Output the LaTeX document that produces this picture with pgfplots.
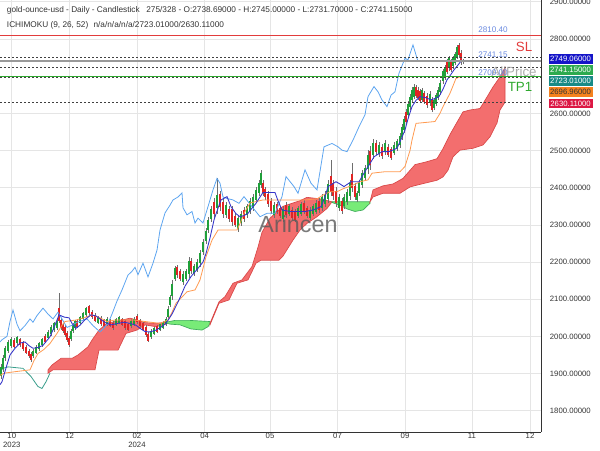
\documentclass[border=0pt]{standalone}
\usepackage{pgfplots}
\pgfplotsset{compat=1.18}
\usepackage{pgfplotstable}
\usepackage{fontspec}
\setmainfont{Liberation Sans}
\definecolor{cgrn}{HTML}{1FA03A}
\definecolor{cred}{HTML}{E02424}
\definecolor{wick}{HTML}{6E6E6E}
\definecolor{lblue}{HTML}{5DA5F0}
\definecolor{dblue}{HTML}{3535C8}
\definecolor{korange}{HTML}{FF9A50}
\definecolor{tealx}{HTML}{3A9E8C}
\definecolor{cloudred}{HTML}{F36E6E}
\definecolor{cloudredline}{HTML}{D94848}
\definecolor{cloudgrn}{HTML}{78EB78}
\definecolor{cloudgrnline}{HTML}{3DAA5A}
\definecolor{txtgray}{HTML}{333333}
\definecolor{lbltxt}{HTML}{6A8AE0}
\definecolor{slred}{HTML}{E23C3C}
\definecolor{tpgreen}{HTML}{2EA82E}
\definecolor{boxblue}{HTML}{1414C8}
\definecolor{boxgreen}{HTML}{2DAA4F}
\definecolor{boxteal}{HTML}{178A86}
\definecolor{boxorange}{HTML}{F5821F}
\definecolor{boxred}{HTML}{DC1844}
\newcommand{\tf}{\fontsize{5.8}{6.6}\selectfont}
\newcommand{\ttlf}{\fontsize{6.2}{7}\selectfont}

\pgfplotstableread{
x o h l c
1 1893 1925 1885 1917
3 1914 1950 1905 1941
5 1943 1975 1935 1967
8 1962 1990 1955 1983
11 1976 1998 1970 1992
14 1990 1995 1968 1973
17 1983 2002 1978 1997
20 1991 1996 1972 1977
23 1982 1987 1962 1967
26 1971 1976 1952 1957
29 1961 1966 1942 1947
31 1953 1958 1932 1937
33 1947 1966 1942 1961
36 1957 1976 1952 1971
39 1967 1986 1962 1981
42 1977 1996 1972 1991
45 2001 2006 1982 1987
48 1997 2016 1992 2011
51 2008 2030 2002 2024
54 2018 2040 2012 2034
57 2024 2046 2018 2040
59 2075 2118 2035 2042
61 2044 2050 2018 2024
63 2030 2036 2008 2014
65 2024 2030 1998 2004
67 2009 2015 1984 1990
69 1996 2002 1972 1978
71 1994 2020 1988 2014
73 2014 2036 2008 2030
75 2023 2045 2018 2040
77 2041 2046 2022 2027
80 2038 2056 2033 2051
83 2048 2066 2043 2061
86 2058 2080 2053 2075
89 2080 2085 2058 2063
92 2066 2071 2048 2053
95 2057 2062 2038 2043
98 2038 2056 2034 2052
101 2050 2055 2029 2034
104 2042 2046 2024 2028
107 2033 2052 2028 2047
110 2042 2046 2024 2028
113 2036 2041 2018 2023
116 2032 2050 2028 2046
119 2038 2056 2034 2052
122 2046 2050 2028 2032
125 2040 2045 2018 2023
128 2032 2036 2014 2018
131 2028 2046 2023 2041
134 2033 2051 2029 2047
137 2055 2060 2034 2039
140 2042 2046 2024 2028
143 2035 2040 2014 2019
146 2024 2030 1998 2004
148 2006 2011 1984 1989
151 1999 2020 1994 2015
154 2008 2026 2004 2022
157 2026 2030 2008 2012
160 2018 2036 2014 2032
163 2023 2041 2019 2037
166 2033 2052 2028 2047
168 2052 2082 2044 2074
170 2085 2112 2078 2105
172 2109 2152 2098 2141
175 2156 2190 2148 2182
177 2185 2192 2158 2165
180 2175 2182 2148 2155
183 2146 2176 2138 2168
186 2155 2182 2148 2175
189 2169 2214 2158 2203
191 2203 2212 2168 2177
194 2170 2196 2163 2189
197 2180 2207 2173 2200
200 2197 2232 2188 2223
203 2227 2262 2218 2253
206 2257 2292 2248 2283
208 2287 2322 2278 2313
211 2317 2352 2308 2343
214 2361 2372 2318 2329
217 2345 2425 2328 2380
220 2381 2392 2338 2349
223 2361 2372 2318 2329
226 2327 2362 2318 2353
229 2343 2352 2308 2317
232 2341 2352 2298 2309
235 2324 2332 2293 2301
238 2291 2327 2282 2318
241 2306 2337 2298 2329
244 2339 2347 2308 2316
247 2326 2357 2318 2349
250 2337 2372 2328 2363
253 2347 2382 2338 2373
256 2367 2402 2358 2393
259 2387 2422 2378 2413
261 2408 2448 2398 2438
263 2413 2422 2378 2387
265 2395 2402 2368 2375
268 2383 2392 2348 2357
271 2363 2372 2328 2337
274 2327 2362 2318 2353
277 2355 2362 2328 2335
280 2345 2352 2318 2325
283 2317 2352 2308 2343
286 2353 2362 2318 2327
289 2330 2357 2323 2350
292 2340 2347 2313 2320
295 2335 2342 2308 2315
298 2325 2352 2318 2345
301 2331 2362 2323 2354
304 2359 2367 2328 2336
307 2345 2352 2318 2325
310 2320 2347 2313 2340
313 2330 2357 2323 2350
316 2336 2367 2328 2359
319 2364 2372 2333 2341
322 2347 2382 2338 2373
325 2357 2392 2348 2383
328 2371 2422 2358 2409
331 2430 2475 2378 2390
333 2411 2422 2368 2379
336 2391 2402 2348 2359
339 2347 2382 2338 2373
342 2363 2372 2328 2337
344 2351 2382 2343 2374
347 2362 2397 2353 2388
350 2379 2422 2368 2411
352 2435 2466 2388 2400
355 2403 2412 2368 2377
357 2368 2392 2362 2386
359 2387 2422 2378 2413
362 2408 2448 2398 2438
365 2427 2462 2418 2453
368 2451 2501 2438 2488
370 2499 2512 2448 2461
373 2488 2530 2478 2520
376 2519 2527 2488 2496
379 2491 2522 2483 2514
382 2509 2517 2478 2486
385 2496 2527 2488 2519
388 2510 2517 2483 2490
391 2503 2510 2475 2482
394 2495 2522 2488 2515
397 2505 2532 2498 2525
400 2516 2547 2508 2539
402 2537 2572 2528 2563
404 2557 2592 2548 2583
406 2603 2612 2568 2577
408 2597 2632 2588 2623
410 2617 2652 2608 2643
412 2637 2672 2628 2663
414 2646 2678 2638 2670
416 2669 2676 2640 2647
418 2663 2670 2635 2642
420 2658 2665 2628 2635
422 2637 2668 2630 2661
424 2653 2660 2625 2632
427 2647 2655 2615 2623
430 2628 2660 2620 2652
432 2637 2645 2603 2611
434 2616 2640 2610 2634
436 2627 2655 2620 2648
438 2642 2670 2635 2663
440 2658 2690 2650 2682
443 2688 2720 2680 2712
445 2698 2730 2690 2722
447 2737 2745 2705 2713
449 2723 2755 2715 2747
451 2738 2745 2710 2717
453 2727 2755 2720 2748
455 2737 2765 2730 2758
457 2753 2785 2745 2777
459 2782 2790 2750 2758
461 2762 2770 2730 2738
463 2738.69 2745 2731.7 2741.15
}\candles

\begin{document}
\begin{tikzpicture}
\path[use as bounding box] (0,-13.5pt) rectangle (450pt,324pt);
\begin{axis}[
  at={(0,0)}, anchor=south west,
  scale only axis, width=405.75pt, height=324pt,
  xmin=0, xmax=541, ymin=1742.8, ymax=2904.9,
  axis x line*=bottom, axis y line*=right,
  axis line style={draw=black!80, line width=0.75pt},
  clip mode=individual,
  xtick={11.8,69.7,137,204.6,270,337.5,405,472,530},
  xticklabels={{10\\2023},{12},{02\\2024},{04},{05},{07},{09},{11},{12}},
  xticklabel style={align=center, font=\tf, text=txtgray, inner sep=0.5pt},
  ytick={1800,1900,2000,2100,2200,2300,2400,2500,2600,2700,2800,2900},
  yticklabels={1800.00000,1900.00000,2000.00000,2100.00000,2200.00000,2300.00000,2400.00000,2500.00000,2600.00000,{},2800.00000,2900.00000},
  yticklabel style={font=\tf, text=txtgray, inner sep=0pt, xshift=6.5pt},
  major tick length=0pt,
  tick style={draw=none},
  xmajorgrids, ymajorgrids,
  grid style={draw=black!10, line width=0.5pt},
]
% teal span line at left
\addplot[tealx, line width=0.6pt] coordinates {(0,1905) (3,1914) (8,1918) (23,1914) (31,1892) (38,1865) (42,1860) (46,1878) (50,1901)};
% cloud 1 red
\addplot[fill=cloudred, draw=cloudredline, line width=0.5pt] coordinates {
(48,1910) (52,1923) (61,1941) (72,1941) (78,1950) (88,1972) (92,1990) (99,2017) (107,2035) (115,2040) (122,2044) (130,2049) (137,2044) (145,2037) (156,2035) (166,2038)
(166,2033) (156,2026) (145,2031) (137,2017) (126,2008) (118,1963) (99,1963) (95,1910) (53,1910) (48,1901)} -- cycle;
% cloud green 1
\addplot[fill=cloudgrn, draw=cloudgrnline, line width=0.5pt] coordinates {
(166,2038) (175,2043) (190,2043) (210,2040)
(210,2035) (208,2026) (202,2017) (191,2020) (180,2031) (170,2033) (166,2036)} -- cycle;
% cloud 2 red
\addplot[fill=cloudred, draw=cloudredline, line width=0.5pt] coordinates {
(210,2035) (219,2093) (225,2107) (233,2143) (242,2152) (252,2188) (258,2240) (262,2280) (270,2318) (283,2350) (300,2365) (307,2374) (320,2370) (332,2362)
(327,2344) (317,2322) (307,2304) (300,2286) (293,2259) (283,2216) (279,2205) (261,2205) (256,2197) (248,2152) (237,2143) (229,2098) (219,2089) (210,2031)} -- cycle;
% cloud green 2
\addplot[fill=cloudgrn, draw=cloudgrnline, line width=0.5pt] coordinates {
(332,2362) (370,2362)
(370,2358) (363,2340) (355,2336) (347,2343) (340,2353) (332,2360)} -- cycle;
% cloud 3 red
\addplot[fill=cloudred, draw=cloudredline, line width=0.5pt] coordinates {
(370,2362) (373,2394) (383,2405) (393,2410) (403,2425) (415,2462) (427,2470) (437,2478) (443,2505) (450,2543) (457,2576) (463,2604) (470,2609) (480,2613) (487,2644) (493,2671) (500,2698) (505,2723)
(505,2630) (500,2609) (497,2574) (490,2537) (483,2515) (473,2506) (460,2501) (453,2483) (448,2447) (443,2429) (437,2420) (417,2407) (410,2402) (400,2385) (383,2385) (373,2375)} -- cycle;

% candles: wicks
\addplot[draw=none, mark=none, forget plot,
  error bars/.cd, y dir=both, y explicit, error mark=none,
  error bar style={draw=wick, line width=0.45pt}]
  table[x=x, y expr={(\thisrow{h}+\thisrow{l})/2}, y error expr={(\thisrow{h}-\thisrow{l})/2}] {\candles};
% up bodies
\addplot[draw=none, mark=none, forget plot, restrict y to domain=1000:5000,
  error bars/.cd, y dir=both, y explicit, error mark=none,
  error bar style={draw=cgrn, line width=1.3pt}]
  table[x=x, y expr={\thisrow{c}>=\thisrow{o} ? (\thisrow{o}+\thisrow{c})/2 : -100}, y error expr={abs(\thisrow{c}-\thisrow{o})/2+0.8}] {\candles};
% down bodies
\addplot[draw=none, mark=none, forget plot, restrict y to domain=1000:5000,
  error bars/.cd, y dir=both, y explicit, error mark=none,
  error bar style={draw=cred, line width=1.3pt}]
  table[x=x, y expr={\thisrow{c}<\thisrow{o} ? (\thisrow{o}+\thisrow{c})/2 : -100}, y error expr={abs(\thisrow{c}-\thisrow{o})/2+0.8}] {\candles};

% chikou (light blue)
\addplot[lblue, line width=0.6pt] coordinates {(0,1985) (2,1991) (7,2000) (10,2040) (13,2071) (17,2033) (20,2015) (25,2029) (30,2047) (33,2038) (37,2056) (43,2076) (48,2060) (53,2047) (58,2065) (62,2047) (67,2024) (72,2030) (77,2038) (87,2047) (93,2029) (100,2012) (103,2020) (108,2035) (112,2060) (117,2095) (122,2125) (128,2165) (132,2175) (135,2186) (138,2166) (143,2197) (148,2160) (153,2197) (157,2232) (160,2286) (165,2332) (170,2353) (173,2367) (178,2375) (182,2386) (183,2346) (187,2327) (192,2336) (195,2305) (198,2318) (203,2305) (208,2349) (213,2394) (217,2425) (220,2412) (223,2375) (227,2371) (233,2367) (239,2358) (244,2376) (252,2349) (260,2322) (267,2331) (275,2331) (282,2376) (286,2430) (294,2403) (298,2385) (305,2448) (311,2412) (317,2394) (324,2510) (332,2519) (338,2510) (342,2501) (347,2497) (353,2528) (359,2564) (365,2596) (368,2645) (374,2672) (378,2658) (382,2636) (387,2618) (391,2649) (395,2658) (399,2708) (405,2748) (408,2744) (413,2784) (418,2739)};
% kijun (orange)
\addplot[korange, line width=0.6pt] coordinates {(0,1895) (4,1901) (15,1905) (30,1910) (34,1935) (38,1954) (44,1965) (50,1981) (57,2008) (62,2030) (65,2040) (76,2044) (84,2050) (92,2058) (100,2050) (107,2040) (115,2044) (134,2044) (145,2040) (160,2035) (168,2044) (172,2065) (176,2089) (187,2120) (195,2125) (200,2152) (206,2214) (212,2259) (218,2286) (237,2286) (241,2310) (244,2331) (250,2359) (263,2367) (305,2367) (317,2370) (323,2380) (330,2389) (337,2389) (343,2397) (353,2407) (360,2416) (368,2421) (372,2439) (385,2443) (400,2443) (405,2457) (410,2500) (412,2528) (416,2573) (435,2578) (440,2600) (443,2618) (450,2654) (456,2694) (462,2700)};
% tenkan (dark blue)
\addplot[dblue, line width=0.65pt] coordinates {(0,1870) (2,1878) (6,1915) (10,1950) (15,1968) (20,1982) (25,1985) (29,1975) (33,1968) (38,1970) (43,1976) (50,1999) (55,2030) (59,2058) (64,2052) (69,2050) (72,2035) (76,2022) (80,2030) (85,2045) (91,2058) (96,2055) (101,2045) (106,2036) (111,2031) (118,2035) (124,2038) (130,2035) (136,2030) (141,2020) (145,2013) (150,2012) (156,2017) (161,2025) (166,2035) (172,2060) (179,2098) (185,2135) (191,2161) (198,2183) (203,2200) (206,2223) (210,2265) (214,2313) (218,2345) (221,2367) (227,2376) (231,2349) (236,2330) (240,2322) (244,2325) (248,2331) (252,2345) (256,2358) (260,2375) (263,2387) (270,2387) (275,2387) (278,2365) (282,2340) (290,2336) (298,2336) (305,2336) (313,2340) (321,2349) (325,2375) (328,2403) (336,2416) (340,2410) (344,2403) (351,2416) (359,2416) (362,2430) (366,2448) (370,2465) (374,2483) (382,2497) (389,2497) (397,2506) (401,2530) (405,2555) (408,2585) (412,2618) (416,2635) (420,2645) (426,2642) (431,2636) (435,2640) (439,2645) (443,2665) (447,2690) (451,2705) (454,2717) (458,2730) (462,2744)};

% level lines
\addplot[slred, line width=0.9pt] coordinates {(0,2810.4) (541,2810.4)};
\addplot[black!40, line width=1.1pt] coordinates {(0,2741.15) (541,2741.15)};
\addplot[tpgreen, line width=0.75pt] coordinates {(0,2700) (541,2700)};
\addplot[black!75, line width=0.7pt, dash pattern=on 1.5pt off 1.5pt] coordinates {(0,2749.06) (541,2749.06)};
\addplot[black!75, line width=0.7pt, dash pattern=on 1.5pt off 1.5pt] coordinates {(0,2723.01) (541,2723.01)};
\addplot[black!75, line width=0.7pt, dash pattern=on 1.5pt off 1.5pt] coordinates {(0,2696.96) (541,2696.96)};
\addplot[black!75, line width=0.7pt, dash pattern=on 1.5pt off 1.5pt] coordinates {(0,2630.11) (541,2630.11)};

% watermarks
\node[anchor=base, text=black!65, opacity=0.8, font=\fontsize{17.5}{18}\selectfont] at (axis cs:298,2280.8) {Arincen};
\node[anchor=base, text=black!40, opacity=0.8, font=\fontsize{10}{11}\selectfont] at (axis cs:514,2697.8) {AllPrice};

% level labels
\node[anchor=base, text=lbltxt, font=\fontsize{6.1}{7}\selectfont] at (axis cs:493,2817) {2810.40};
\node[anchor=base, text=lbltxt, font=\fontsize{6.1}{7}\selectfont] at (axis cs:493,2749.5) {2741.15};
\node[anchor=base, text=lbltxt, font=\fontsize{6.1}{7}\selectfont] at (axis cs:493,2703) {2700.00};
\node[anchor=east, text=slred, font=\fontsize{10}{11}\selectfont] at (axis cs:537,2780) {SL};
\node[anchor=east, text=tpgreen, font=\fontsize{10}{11}\selectfont] at (axis cs:537,2670) {TP1};

% title
\node[anchor=west, text=txtgray, font=\ttlf, inner sep=0pt] at (axis cs:6.7,2876) {gold-ounce-usd - Daily - Candlestick\hspace{5pt}275/328 - O:2738.69000 - H:2745.00000 - L:2731.70000 - C:2741.15000};
\node[anchor=west, text=txtgray, font=\ttlf, inner sep=0pt] at (axis cs:6.7,2836.3) {ICHIMOKU (9, 26, 52)\hspace{4pt}n/a/n/a/n/a/2723.01000/2630.11000};

% right value boxes
\node[anchor=west, fill=boxblue, text=white, font=\tf, minimum width=33pt, minimum height=7.1pt, inner sep=0pt] at (axis cs:548.3,2746.7) {2749.06000};
\node[anchor=west, fill=boxgreen, text=white, font=\tf, minimum width=33pt, minimum height=7.1pt, inner sep=0pt] at (axis cs:548.3,2717.1) {2741.15000};
\node[anchor=west, fill=boxteal, text=white, font=\tf, minimum width=33pt, minimum height=7.1pt, inner sep=0pt] at (axis cs:548.3,2687.0) {2723.01000};
\node[anchor=west, fill=boxorange, text=txtgray, font=\tf, minimum width=33pt, minimum height=7.1pt, inner sep=0pt] at (axis cs:548.3,2656.9) {2696.96000};
\node[anchor=west, fill=boxred, text=white, font=\tf, minimum width=33pt, minimum height=7.1pt, inner sep=0pt] at (axis cs:548.3,2625.9) {2630.11000};
\end{axis}
\end{tikzpicture}
\end{document}
